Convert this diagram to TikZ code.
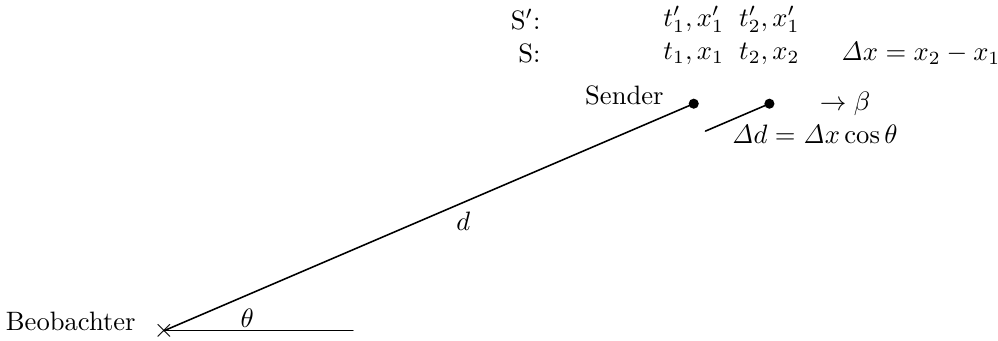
\documentclass[tikz,border=0pt]{standalone}
\usetikzlibrary{positioning}

\newcommand{\Dl}{\mathit{\Delta}}

\begin{document}
\begin{tikzpicture}[line cap=round, line join=round,
		punkt/.style={circle, fill=black, inner sep=0pt, minimum size=3.8pt},
		strahl/.style={semithick}]

		\useasboundingbox (-2.166,-0.132) rectangle (11.02,4.37);

		% --- Beobachter ---
		\node[inner sep=0pt] (beob) at (0,0) {$\times$};
		\node[left=0.25cm of beob.center, yshift=0.12cm] (tbeob) {Beobachter};
		\coordinate (hor) at (2.5,0);
		\draw (beob.center) -- (hor);
		\node (theta) at (1.1,0.17) {$\theta$};

		% --- Sender in zwei Positionen ---
		\node[punkt] (send) at (7,3) {};
		\node[punkt] (send2) at (8,3) {};
		\node[left=0.2cm of send, yshift=0.11cm] (tsend) {Sender};
		\draw[strahl] (beob.center) -- (send.center) node[pos=0.565, below] (td) {$d$};

		% Projektion auf die Sichtlinie
		\coordinate (proj) at (7.155,2.638);
		\draw[strahl] (send2.center) -- (proj);
		\node (beta) at (9,3) {$\to\beta$};
		\node (dd) at (8.6,2.6) {$\Dl d=\Dl x\cos\theta$};

		% --- Ereignisse in S' und S ---
		\node[anchor=east] (ks2) at (5.1,4.11) {S$'$:};
		\node[anchor=east] (ks) at (5.1,3.66) {S:};
		\node (e1s2) at (7,4.11) {$t_1',x_1'$};
		\node (e2s2) at (8,4.11) {$t_2',x_1'$};
		\node (e1s) at (7,3.66) {$t_1,x_1$};
		\node (e2s) at (8,3.66) {$t_2,x_2$};
		\node (dx) at (10,3.66) {$\Dl x=x_2-x_1$};

	\end{tikzpicture}
\end{document}
